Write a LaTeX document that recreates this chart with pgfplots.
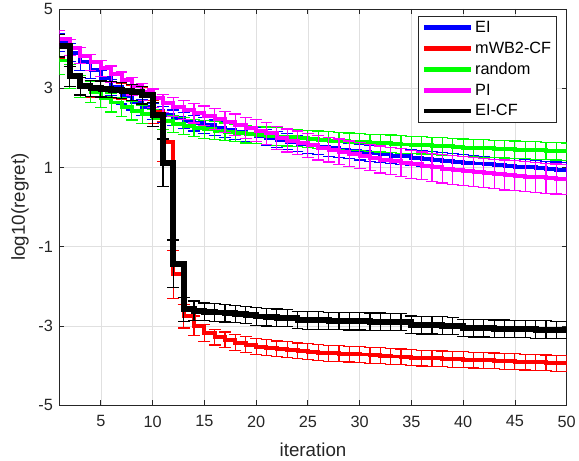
\documentclass[border=0pt]{standalone}
\usepackage{pgfplots}
\usepackage{pgfplotstable}
\pgfplotsset{compat=1.18}
\usepackage{fontspec}
\setmainfont{Liberation Sans}

\pgfplotstableread{
x y e
1 4.15 0.22
2 3.90 0.22
3 3.65 0.2
4 3.45 0.2
5 3.25 0.2
6 3.02 0.2
7 2.80 0.2
8 2.65 0.2
9 2.52 0.2
10 2.42 0.2
11 2.33 0.2
12 2.25 0.2
13 2.18 0.2
14 2.12 0.2
15 2.06 0.2
16 2.00 0.2
17 1.95 0.2
18 1.90 0.2
19 1.85 0.2
20 1.80 0.2
21 1.75 0.2
22 1.70 0.2
23 1.65 0.2
24 1.60 0.2
25 1.56 0.2
26 1.52 0.2
27 1.48 0.2
28 1.45 0.2
29 1.42 0.2
30 1.39 0.2
31 1.36 0.2
32 1.33 0.2
33 1.30 0.2
34 1.28 0.2
35 1.25 0.2
36 1.22 0.2
37 1.20 0.2
38 1.17 0.2
39 1.15 0.2
40 1.12 0.2
41 1.10 0.2
42 1.08 0.2
43 1.06 0.2
44 1.04 0.2
45 1.02 0.2
46 1.00 0.2
47 0.98 0.2
48 0.96 0.2
49 0.94 0.2
50 0.92 0.2
}\dataEI

\pgfplotstableread{
x y e
1 4.05 0.3
2 3.30 0.25
3 3.05 0.22
4 2.98 0.2
5 2.96 0.2
6 2.94 0.2
7 2.92 0.2
8 2.88 0.2
9 2.80 0.22
10 2.40 0.3
11 1.65 0.5
12 -1.70 0.6
13 -2.75 0.3
14 -3.00 0.25
15 -3.18 0.22
16 -3.28 0.2
17 -3.35 0.2
18 -3.42 0.2
19 -3.47 0.2
20 -3.52 0.2
21 -3.55 0.2
22 -3.58 0.2
23 -3.60 0.2
24 -3.63 0.2
25 -3.65 0.2
26 -3.67 0.2
27 -3.69 0.2
28 -3.70 0.2
29 -3.71 0.2
30 -3.72 0.2
31 -3.74 0.2
32 -3.75 0.2
33 -3.77 0.2
34 -3.78 0.2
35 -3.80 0.2
36 -3.81 0.2
37 -3.82 0.2
38 -3.83 0.2
39 -3.84 0.2
40 -3.85 0.2
41 -3.86 0.2
42 -3.87 0.2
43 -3.88 0.2
44 -3.89 0.2
45 -3.90 0.2
46 -3.91 0.2
47 -3.92 0.2
48 -3.93 0.2
49 -3.94 0.2
50 -3.95 0.2
}\dataWB

\pgfplotstableread{
x y e
1 3.70 0.35
2 3.30 0.3
3 3.05 0.28
4 2.90 0.26
5 2.76 0.25
6 2.64 0.24
7 2.53 0.24
8 2.43 0.23
9 2.34 0.23
10 2.25 0.22
11 2.17 0.22
12 2.10 0.22
13 2.05 0.22
14 2.00 0.22
15 1.96 0.22
16 1.93 0.22
17 1.90 0.22
18 1.87 0.22
19 1.84 0.22
20 1.82 0.22
21 1.80 0.22
22 1.78 0.22
23 1.76 0.22
24 1.74 0.22
25 1.72 0.22
26 1.70 0.22
27 1.68 0.22
28 1.67 0.22
29 1.65 0.22
30 1.64 0.22
31 1.62 0.22
32 1.61 0.22
33 1.60 0.22
34 1.58 0.22
35 1.57 0.22
36 1.56 0.22
37 1.54 0.22
38 1.53 0.22
39 1.52 0.22
40 1.50 0.22
41 1.49 0.22
42 1.48 0.22
43 1.47 0.22
44 1.46 0.22
45 1.45 0.22
46 1.44 0.22
47 1.43 0.22
48 1.42 0.22
49 1.41 0.22
50 1.40 0.22
}\dataRand

\pgfplotstableread{
x y e
1 4.25 0.2
2 4.02 0.2
3 3.82 0.2
4 3.65 0.2
5 3.50 0.2
6 3.35 0.21
7 3.20 0.21
8 3.05 0.22
9 2.90 0.22
10 2.75 0.23
11 2.62 0.23
12 2.52 0.24
13 2.45 0.24
14 2.37 0.25
15 2.30 0.25
16 2.22 0.26
17 2.15 0.26
18 2.08 0.27
19 2.00 0.27
20 1.93 0.28
21 1.86 0.28
22 1.74 0.29
23 1.68 0.29
24 1.62 0.3
25 1.56 0.3
26 1.50 0.31
27 1.45 0.31
28 1.40 0.32
29 1.35 0.32
30 1.30 0.33
31 1.25 0.33
32 1.20 0.34
33 1.16 0.34
34 1.12 0.35
35 1.08 0.35
36 1.04 0.35
37 1.00 0.36
38 0.97 0.36
39 0.94 0.36
40 0.91 0.37
41 0.88 0.37
42 0.86 0.37
43 0.83 0.37
44 0.81 0.38
45 0.79 0.38
46 0.77 0.38
47 0.75 0.38
48 0.73 0.38
49 0.71 0.38
50 0.69 0.38
}\dataPI

\pgfplotstableread{
x y e
1 4.07 0.28
2 3.30 0.25
3 3.05 0.22
4 3.00 0.2
5 2.98 0.2
6 2.96 0.2
7 2.94 0.2
8 2.90 0.2
9 2.82 0.22
10 2.33 0.3
11 1.12 0.6
12 -1.43 0.6
13 -2.58 0.3
14 -2.62 0.25
15 -2.64 0.22
16 -2.66 0.22
17 -2.68 0.22
18 -2.70 0.22
19 -2.72 0.22
20 -2.76 0.22
21 -2.78 0.22
22 -2.79 0.22
23 -2.80 0.22
24 -2.85 0.22
25 -2.86 0.22
26 -2.86 0.22
27 -2.87 0.22
28 -2.87 0.22
29 -2.88 0.22
30 -2.88 0.22
31 -2.89 0.22
32 -2.89 0.22
33 -2.90 0.22
34 -2.90 0.22
35 -2.97 0.22
36 -2.98 0.22
37 -2.98 0.22
38 -2.99 0.22
39 -3.00 0.22
40 -3.05 0.22
41 -3.06 0.22
42 -3.06 0.22
43 -3.07 0.22
44 -3.07 0.22
45 -3.08 0.22
46 -3.08 0.22
47 -3.09 0.22
48 -3.09 0.22
49 -3.10 0.22
50 -3.10 0.22
}\dataEICF

\definecolor{axgray}{rgb}{0.15,0.15,0.15}
\definecolor{gridgray}{rgb}{0.88,0.88,0.88}
\definecolor{cblue}{rgb}{0,0,1}
\definecolor{cred}{rgb}{1,0,0}
\definecolor{cgreen}{rgb}{0,1,0}
\definecolor{cmag}{rgb}{1,0,1}
\definecolor{cblack}{rgb}{0,0,0}

\begin{document}
\begin{tikzpicture}
\begin{axis}[
  scale only axis,
  width=512bp, height=400bp,
  xmin=1, xmax=50, ymin=-5, ymax=5,
  xtick={5,10,...,50},
  ytick={-5,-3,-1,1,3,5},
  grid=major,
  major grid style={gridgray, line width=0.6bp},
  axis line style={axgray, line width=0.8bp},
  tick style={axgray, line width=0.8bp},
  tick align=inside,
  major tick length=5bp,
  /pgf/number format/assume math mode=true,
  ticklabel style={font=\fontsize{16.5}{19}\selectfont, text=axgray},
  xticklabel style={yshift=-7bp},
  yticklabel style={xshift=-3bp},
  label style={font=\fontsize{19}{22}\selectfont, text=axgray},
  xlabel={iteration},
  ylabel={log10(regret)},
  xlabel style={yshift=-9bp},
  ylabel style={yshift=3bp},
  legend style={at={(0.98,0.982)}, anchor=north east, draw=axgray, line width=0.8bp,
    font=\fontsize{16.5}{19}\selectfont, row sep=4bp, inner sep=3bp},
  legend cell align=left,
  legend image code/.code={\draw[#1, line width=5bp] (0bp,0bp) -- (47bp,0bp);},
  error bars/error bar style={line width=1.2bp},
  error bars/error mark options={rotate=90, mark size=6bp, line width=1.2bp},
]
\addplot[cblue, line width=4bp, const plot, forget plot,
  error bars/.cd, y dir=both, y explicit] table[x=x, y=y, y error=e] {\dataEI};
\addplot[cred, line width=4bp, const plot, forget plot,
  error bars/.cd, y dir=both, y explicit] table[x=x, y=y, y error=e] {\dataWB};
\addplot[cgreen, line width=4bp, const plot, forget plot,
  error bars/.cd, y dir=both, y explicit] table[x=x, y=y, y error=e] {\dataRand};
\addplot[cmag, line width=4bp, const plot, forget plot,
  error bars/.cd, y dir=both, y explicit] table[x=x, y=y, y error=e] {\dataPI};
\addplot[cblack, line width=6bp, const plot, forget plot,
  error bars/.cd, y dir=both, y explicit] table[x=x, y=y, y error=e] {\dataEICF};
\addlegendimage{cblue}\addlegendentry{EI}
\addlegendimage{cred}\addlegendentry{mWB2-CF}
\addlegendimage{cgreen}\addlegendentry{random}
\addlegendimage{cmag}\addlegendentry{PI}
\addlegendimage{cblack}\addlegendentry{EI-CF}
\end{axis}
\path ([shift={(-60bp,-56bp)}]current axis.south west) rectangle ([shift={(7bp,8bp)}]current axis.north east);
\end{tikzpicture}
\end{document}
